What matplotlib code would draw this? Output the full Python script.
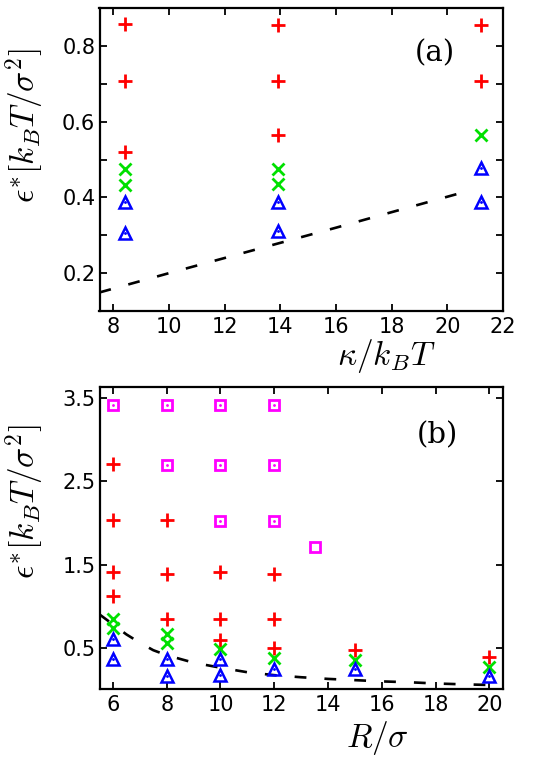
import matplotlib
matplotlib.use("Agg")
import matplotlib.pyplot as plt
import numpy as np

plt.rcParams['mathtext.fontset'] = 'cm'
plt.rcParams['font.family'] = ['DejaVu Sans']
plt.rcParams['lines.scale_dashes'] = False

# ---- panel (a) data ----
a_red_x = [8.4, 8.4, 8.4, 13.9, 13.9, 13.9, 21.2, 21.2]
a_red_y = [0.858, 0.708, 0.519, 0.856, 0.708, 0.565, 0.856, 0.707]
a_green_x = [8.4, 8.4, 13.9, 13.9, 21.2]
a_green_y = [0.475, 0.432, 0.475, 0.434, 0.565]
a_blue_x = [8.4, 8.4, 13.9, 13.9, 21.2, 21.2]
a_blue_y = [0.388, 0.307, 0.388, 0.310, 0.477, 0.388]
a_line_x = [7.5, 10.0, 12.0, 14.0, 16.0, 18.0, 20.8]
a_line_y = [0.149, 0.200, 0.240, 0.280, 0.320, 0.361, 0.418]
a_xticks = [8, 10, 12, 14, 16, 18, 20, 22]
a_yticks = [0.2, 0.3, 0.4, 0.5, 0.6, 0.7, 0.8]
a_yticklabels = ['0.2', '', '0.4', '', '0.6', '', '0.8']

# ---- panel (b) data ----
b_sq_x = [6, 8, 10, 12, 8, 10, 12, 10, 12]
b_sq_y = [3.42, 3.42, 3.42, 3.42, 2.70, 2.70, 2.70, 2.02, 2.02]
b_sq2_x = [13.5]
b_sq2_y = [1.71]
b_red_x = [6, 6, 6, 6, 8, 8, 8, 10, 10, 10, 12, 12, 12, 15, 20]
b_red_y = [2.71, 2.03, 1.41, 1.12, 2.03, 1.39, 0.85, 1.41, 0.85, 0.59, 1.39, 0.85, 0.50, 0.47, 0.39]
b_green_x = [6, 6, 8, 8, 10, 12, 15, 20]
b_green_y = [0.85, 0.74, 0.66, 0.56, 0.49, 0.38, 0.35, 0.27]
b_blue_x = [6, 6, 8, 8, 10, 10, 12, 15, 20]
b_blue_y = [0.60, 0.37, 0.37, 0.16, 0.36, 0.17, 0.25, 0.24, 0.16]
b_line_x = [5.5, 6.0, 6.5, 7.0, 7.5, 8.0, 9.0, 10.0, 11.0, 12.0, 13.0, 14.0, 15.0, 16.0, 17.0, 18.0, 19.0, 20.0, 20.5]
b_line_y = [0.90, 0.78, 0.66, 0.56, 0.47, 0.41, 0.32, 0.26, 0.205, 0.17, 0.145, 0.125, 0.11, 0.095, 0.085, 0.07, 0.06, 0.052, 0.05]
b_xticks = [6, 8, 10, 12, 14, 16, 18, 20]
b_yticks = [0.5, 1.5, 2.5, 3.5]

fig = plt.figure(figsize=(5.34, 7.62), dpi=100)
W, H = 534, 762
def axrect(l, r, t, b):
    return [l / W, 1 - b / H, (r - l) / W, (b - t) / H]

ax1 = fig.add_axes(axrect(99.5, 503, 8, 311))
ax2 = fig.add_axes(axrect(99.5, 502.7, 387.3, 689.3))

red, green, blue, mag = '#ff0000', '#00e000', '#0000ff', '#ff00ff'
mew = 2.0

def style(ax):
    for s in ax.spines.values():
        s.set_linewidth(1.6)
    ax.tick_params(direction='in', top=True, right=True, length=5, width=1.3,
                   labelsize=15)
    ax.tick_params(axis='x', pad=4)
    ax.tick_params(axis='y', pad=3)

def draw_tri(ax, x, y):
    ax.plot(x, y, linestyle='none', marker='^', markersize=8, mfc='none',
            mec=blue, mew=1.8, zorder=3)
    ax.plot(x, y, linestyle='none', marker='.', markersize=2, color=blue, zorder=3)

# panel (a)
ax1.plot(a_line_x, a_line_y, color='black', lw=1.9, dashes=(8.5, 13), zorder=2)
ax1.plot(a_red_x, a_red_y, linestyle='none', marker='+', markersize=9.5, mew=mew, color=red)
ax1.plot(a_green_x, a_green_y, linestyle='none', marker='x', markersize=8, mew=mew, color=green)
draw_tri(ax1, a_blue_x, a_blue_y)
ax1.set_xlim(7.5, 22)
ax1.set_ylim(0.1, 0.9)
ax1.set_xticks(a_xticks)
ax1.set_yticks(a_yticks)
ax1.set_yticklabels(a_yticklabels)
style(ax1)
ax1.text(0.83, 0.85, '(a)', transform=ax1.transAxes, fontsize=21,
         ha='center', va='center', family='serif', math_fontfamily='cm')
ax1.set_xlabel(r'$\kappa/k_BT$', fontsize=24)
ax1.set_ylabel(r'$\epsilon^{*}[k_BT/\sigma^2]$', fontsize=24)
ax1.xaxis.set_label_coords(0.71, -0.148)
ax1.xaxis.label.set_va('center')
ax1.yaxis.set_label_coords(-0.185, 0.61)
ax1.yaxis.label.set_va('center')

# panel (b)
ax2.plot(b_line_x, b_line_y, color='black', lw=1.9, dashes=(8.5, 13), zorder=2)
ax2.plot(b_sq_x, b_sq_y, linestyle='none', marker='s', markersize=6.5, mfc='none', mec=mag, mew=2.0)
ax2.plot(b_sq_x, b_sq_y, linestyle='none', marker='.', markersize=2, color=mag)
ax2.plot(b_sq2_x, b_sq2_y, linestyle='none', marker='s', markersize=6.5, mfc='none', mec=mag, mew=2.0)
ax2.plot(b_red_x, b_red_y, linestyle='none', marker='+', markersize=9.5, mew=mew, color=red)
ax2.plot(b_green_x, b_green_y, linestyle='none', marker='x', markersize=8, mew=mew, color=green)
draw_tri(ax2, b_blue_x, b_blue_y)
ax2.set_xlim(5.5, 20.5)
ax2.set_ylim(0.0, 3.63)
ax2.set_xticks(b_xticks)
ax2.set_yticks(b_yticks)
style(ax2)
ax2.text(0.837, 0.84, '(b)', transform=ax2.transAxes, fontsize=21,
         ha='center', va='center', family='serif', math_fontfamily='cm')
ax2.set_xlabel(r'$R/\sigma$', fontsize=24)
ax2.set_ylabel(r'$\epsilon^{*}[k_BT/\sigma^2]$', fontsize=24)
ax2.xaxis.set_label_coords(0.69, -0.16)
ax2.xaxis.label.set_va('center')
ax2.yaxis.set_label_coords(-0.185, 0.62)
ax2.yaxis.label.set_va('center')

fig.savefig('out.png', dpi=100)
